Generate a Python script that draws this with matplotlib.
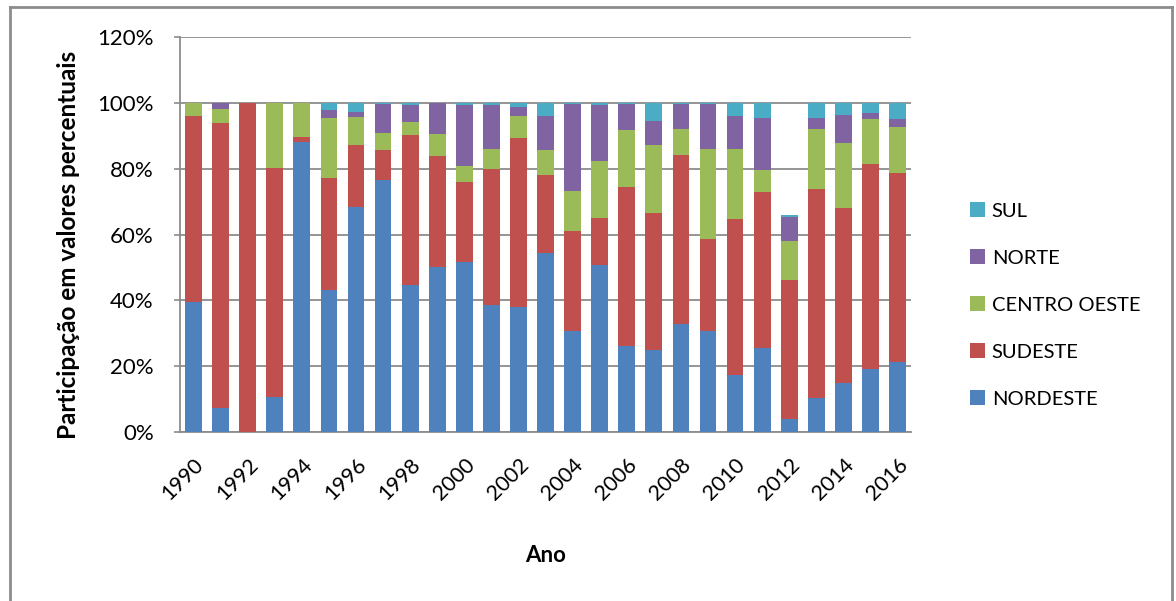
import numpy as np
import matplotlib.pyplot as plt
from matplotlib.lines import Line2D

plt.rcParams['font.family'] = ['Lato', 'DejaVu Sans']

anos = list(range(1990, 2017))
nordeste = [39.6, 7.4, 0.0, 10.5, 88.0, 43.0, 68.3, 76.5, 44.7, 50.2, 51.8, 38.6, 38.1, 54.5,
            30.8, 50.7, 26.2, 24.9, 32.7, 30.7, 17.3, 25.4, 3.8, 10.3, 15.0, 19.2, 21.4]
sudeste = [56.3, 86.5, 100.0, 69.6, 1.5, 34.3, 18.8, 9.1, 45.5, 33.8, 24.3, 41.4, 51.2, 23.5,
           30.3, 14.2, 48.1, 41.5, 51.5, 27.8, 47.3, 47.4, 42.5, 63.5, 53.2, 62.1, 57.4]
centro_oeste = [4.1, 4.1, 0.0, 19.9, 10.5, 18.1, 8.6, 5.3, 3.9, 6.4, 4.7, 6.0, 6.7, 7.7,
                12.2, 17.5, 17.6, 20.7, 7.8, 27.5, 21.5, 6.9, 11.8, 18.3, 19.7, 13.9, 14.0]
norte = [0.0, 2.0, 0.0, 0.0, 0.0, 2.4, 1.5, 8.8, 5.3, 9.6, 18.4, 13.4, 2.8, 10.3,
         26.3, 16.9, 7.7, 7.3, 7.7, 13.6, 9.8, 15.6, 7.1, 3.2, 8.3, 1.8, 2.2]
sul = [0.0, 0.0, 0.0, 0.0, 0.0, 2.2, 2.8, 0.3, 0.6, 0.0, 0.8, 0.6, 1.2, 4.0,
       0.4, 0.7, 0.4, 5.6, 0.3, 0.4, 4.1, 4.7, 0.8, 4.7, 3.8, 3.0, 5.0]

series = [('NORDESTE', nordeste, '#4F81BD'),
          ('SUDESTE', sudeste, '#C0504D'),
          ('CENTRO OESTE', centro_oeste, '#9BBB59'),
          ('NORTE', norte, '#8064A2'),
          ('SUL', sul, '#4BACC6')]

fig = plt.figure(figsize=(11.76, 6.01), dpi=100)
ax = fig.add_axes([0.1531, 0.2812, 0.6216, 0.6572])

x = np.arange(len(anos))
base = np.zeros(len(anos))
handles = []
for nome, vals, cor in series:
    vals = np.array(vals)
    b = ax.bar(x, vals, bottom=base, width=0.62, color=cor, label=nome, zorder=3)
    handles.append(b)
    base += vals

ax.set_xlim(-0.5, len(anos) - 0.5)
ax.set_ylim(0, 120)
ax.set_yticks(range(0, 121, 20))
ax.set_yticklabels([f'{v}%' for v in range(0, 121, 20)], fontsize=16)
ax.yaxis.grid(True, color='#8c8c8c', linewidth=1.3, zorder=0)
ax.set_xticks(x[::2])
ax.set_xticklabels([str(a) for a in anos[::2]], rotation=45, ha='right',
                   rotation_mode='anchor', fontsize=15.5)
ax.tick_params(axis='x', length=0, pad=16)
ax.tick_params(axis='y', length=4, color='#8c8c8c', width=1.2, pad=15)

for s in ['top', 'right']:
    ax.spines[s].set_visible(False)
for s in ['left', 'bottom']:
    ax.spines[s].set_color('#8c8c8c')
    ax.spines[s].set_linewidth(1.3)

ax.set_ylabel('Participação em valores percentuais', fontsize=17.5, fontweight='bold')
ax.yaxis.set_label_coords(-0.137, 0.473)
ax.set_xlabel('Ano', fontsize=16, fontweight='bold')
ax.xaxis.set_label_coords(0.5, -0.285)

leg = fig.legend(handles[::-1], [s[0] for s in series][::-1], loc='center left',
                 bbox_to_anchor=(0.816, 0.4925), frameon=False, fontsize=14.5, borderpad=0,
                 handlelength=0.75, handleheight=0.75, handletextpad=0.35, labelspacing=1.47)

# moldura externa
c = '#8c8c8c'
fig.add_artist(Line2D([10/1176, 10/1176], [0, 1 - 7/601], color=c, lw=2))
fig.add_artist(Line2D([10/1176, 1172/1176], [1 - 7/601, 1 - 7/601], color=c, lw=2))
fig.add_artist(Line2D([1172/1176, 1172/1176], [0, 1 - 7/601], color=c, lw=2))

fig.savefig('out.png', dpi=100)
